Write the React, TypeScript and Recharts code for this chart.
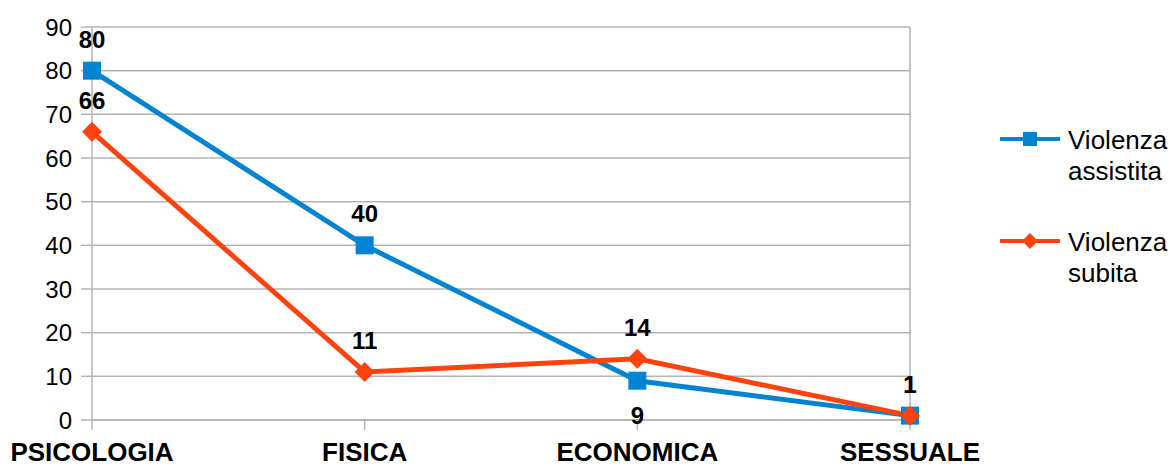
import { LineChart, Line, XAxis, YAxis, CartesianGrid, ReferenceLine } from 'recharts'

// Tipi di violenza e conteggi per le due serie
const categories = ['PSICOLOGIA', 'FISICA', 'ECONOMICA', 'SESSUALE']
const assistita = [80, 40, 9, 1]
const subita = [66, 11, 14, 1]
const yTicks = [0, 10, 20, 30, 40, 50, 60, 70, 80, 90]

const BLUE = '#0084d1'
const ORANGE = '#ff420e'
const GRID = '#b3b3b3'
const FONT = '"Liberation Sans", Arial, sans-serif'

const data = categories.map((name, i) => ({
  name,
  assistita: assistita[i],
  subita: subita[i],
}))

const SquareDot = (props: any) => {
  const { cx, cy } = props
  if (cx == null || cy == null) return null
  return <rect x={cx - 9} y={cy - 9} width={18} height={18} fill={BLUE} />
}

const DiamondDot = (props: any) => {
  const { cx, cy } = props
  if (cx == null || cy == null) return null
  const r = 10
  return (
    <polygon
      points={`${cx},${cy - r} ${cx + r},${cy} ${cx},${cy + r} ${cx - r},${cy}`}
      fill={ORANGE}
    />
  )
}

// Etichette valore: sopra il punto, tranne dove la linea blu incrocia quella arancione
const makeLabel = (below: number[]) => (props: any) => {
  const { x, y, value, index } = props
  const dy = below.includes(index) ? 43 : -23
  return (
    <text
      x={x}
      y={y + dy}
      textAnchor="middle"
      fontFamily={FONT}
      fontWeight="bold"
      fontSize={24}
      fill="#000"
    >
      {value}
    </text>
  )
}

const legendItems = [
  { lines: ['Violenza', 'assistita'], color: BLUE, marker: 'square', top: 125 },
  { lines: ['Violenza', 'subita'], color: ORANGE, marker: 'diamond', top: 227 },
]

function Legend() {
  return (
    <>
      {legendItems.map((item) => (
        <div
          key={item.lines.join(' ')}
          style={{ position: 'absolute', left: 1000, top: item.top, display: 'flex', fontFamily: FONT }}
        >
          <svg width={62} height={30}>
            <line x1={0} y1={14} x2={60} y2={14} stroke={item.color} strokeWidth={4} />
            {item.marker === 'square' ? (
              <rect x={23} y={7} width={14} height={14} fill={item.color} />
            ) : (
              <polygon points="30,6 38,14 30,22 22,14" fill={item.color} />
            )}
          </svg>
          <div style={{ marginLeft: 6, fontSize: 26, lineHeight: '31px', color: '#000', marginTop: 0 }}>
            {item.lines.map((l) => (
              <div key={l}>{l}</div>
            ))}
          </div>
        </div>
      ))}
    </>
  )
}

export default function App() {
  return (
    <div style={{ position: 'absolute', left: 0, top: 0, width: 1172, height: 466, background: '#fff' }}>
      <LineChart
        width={1172}
        height={466}
        data={data}
        margin={{ top: 27, right: 262, bottom: 0, left: 0 }}
      >
        <CartesianGrid stroke={GRID} strokeWidth={1.5} vertical={false} />
        <XAxis
          dataKey="name"
          height={46}
          stroke={GRID}
          strokeWidth={1.5}
          tickSize={10}
          tickMargin={13}
          interval={0}
          tick={{ fill: '#000', fontFamily: FONT, fontWeight: 'bold', fontSize: 26 }}
        />
        <YAxis
          domain={[0, 90]}
          ticks={yTicks}
          width={92}
          stroke={GRID}
          strokeWidth={1.5}
          tickSize={11}
          tickMargin={9}
          tick={{ fill: '#000', fontFamily: FONT, fontSize: 24 }}
        />
        {/* bordo destro dell'area del grafico */}
        <ReferenceLine x="SESSUALE" stroke={GRID} strokeWidth={1.5} />
        <Line
          type="linear"
          dataKey="assistita"
          stroke={BLUE}
          strokeWidth={5}
          dot={<SquareDot />}
          activeDot={false}
          label={makeLabel([2])}
          isAnimationActive={false}
        />
        <Line
          type="linear"
          dataKey="subita"
          stroke={ORANGE}
          strokeWidth={5}
          dot={<DiamondDot />}
          activeDot={false}
          label={makeLabel([])}
          isAnimationActive={false}
        />
      </LineChart>
      <Legend />
    </div>
  )
}
